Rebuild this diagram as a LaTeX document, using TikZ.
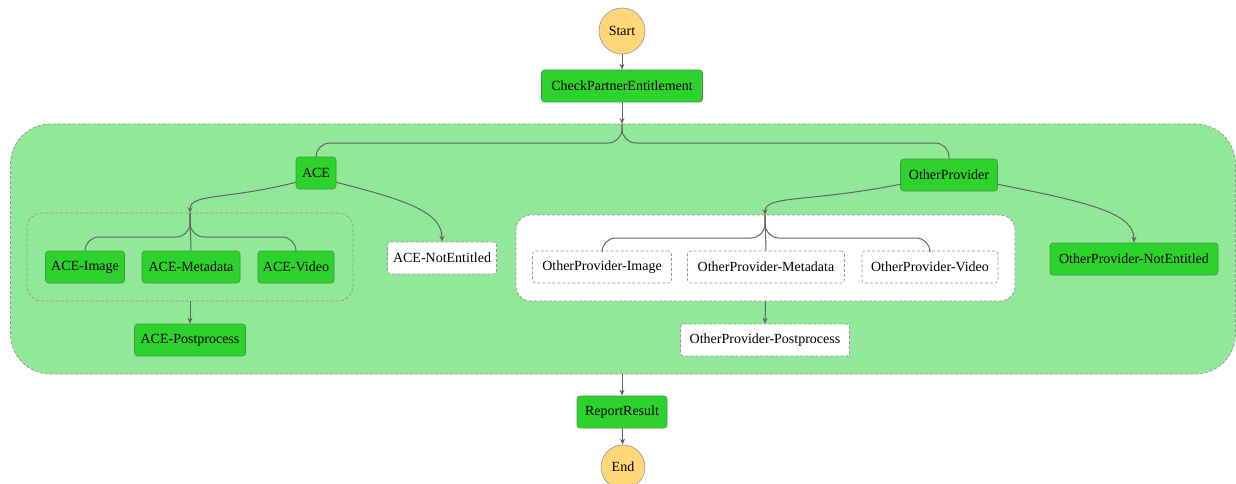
\documentclass[tikz,border=0pt]{standalone}
\usepackage{fontspec}
\setmainfont{Liberation Serif}
\usetikzlibrary{arrows.meta}
\definecolor{nodegreen}{RGB}{45,210,45}
\definecolor{contgreen}{RGB}{145,232,152}
\definecolor{startyel}{RGB}{255,214,120}
\definecolor{edgegray}{RGB}{100,100,100}
\definecolor{bordgray}{RGB}{150,150,150}
\tikzset{
  lbl/.style={font=\fontsize{14}{16}\selectfont, text=black, inner xsep=5pt, inner ysep=0pt, minimum height=32pt},
  greenbox/.style={lbl, rectangle, rounded corners=3pt, fill=nodegreen, draw={rgb,255:red,70;green,150;blue,70}, line width=0.6pt},
  whitebox/.style={lbl, rectangle, rounded corners=3pt, fill=white, draw=bordgray, dash pattern=on 3pt off 2pt, line width=0.6pt},
  termnode/.style={circle, fill=startyel, draw=bordgray, line width=0.6pt, minimum size=46pt, inner sep=0pt, font=\fontsize{14}{16}\selectfont},
  groupbox/.style={rectangle, draw=bordgray, dash pattern=on 3pt off 2pt, line width=0.7pt, inner sep=0pt},
  flow/.style={draw=edgegray, line width=1pt, -{Stealth[length=6pt,width=5pt]}},
  branch/.style={draw=edgegray, line width=1pt, rounded corners=14pt},
}
\begin{document}
\begin{tikzpicture}[x=1pt,y=-1pt]
\useasboundingbox (0,0) rectangle (1236,484);
% container
\node[groupbox, fill=contgreen, rounded corners=40pt, minimum width=1225pt, minimum height=250pt] (cont) at (623,249) {};
\node[groupbox, rounded corners=15pt, minimum width=326pt, minimum height=88pt] (aceg) at (190,257) {};
\node[groupbox, fill=white, rounded corners=15pt, minimum width=499pt, minimum height=86pt] (opg) at (765.5,258) {};
% nodes
\node[termnode] (start) at (622,31) {Start};
\node[greenbox, minimum width=161pt] (cpe) at (622,86) {CheckPartnerEntitlement};
\node[greenbox, minimum width=40pt] (ace) at (316,173) {ACE};
\node[greenbox, minimum width=97pt] (op) at (949,175) {OtherProvider};
\node[greenbox, minimum width=79pt] (acei) at (85,267) {ACE-Image};
\node[greenbox, minimum width=98pt] (acem) at (191,267) {ACE-Metadata};
\node[greenbox, minimum width=76pt] (acev) at (296,267) {ACE-Video};
\node[greenbox, minimum width=111pt] (acep) at (190,340) {ACE-Postprocess};
\node[whitebox, minimum width=109pt] (acen) at (442,258) {ACE-NotEntitled};
\node[whitebox, minimum width=139pt] (opi) at (602,267) {OtherProvider-Image};
\node[whitebox, minimum width=157pt] (opm) at (766,267) {OtherProvider-Metadata};
\node[whitebox, minimum width=136pt] (opv) at (930,267) {OtherProvider-Video};
\node[whitebox, minimum width=169pt] (opp) at (765,340) {OtherProvider-Postprocess};
\node[greenbox, minimum width=168pt] (opn) at (1134,259) {OtherProvider-NotEntitled};
\node[greenbox, minimum width=90pt] (rr) at (622,412) {ReportResult};
\node[termnode, minimum size=44pt] (end) at (623,467) {End};
% junction coordinates
\coordinate (j0) at (622,124);
\coordinate (j1) at (190,213);
\coordinate (j2) at (765,215);
% main flow
\draw[flow] (start) -- (cpe);
\draw[flow] (cpe) -- (j0);
\draw[branch] (j0) -- (622,143) -- (316,143) -- (ace.north);
\draw[branch] (j0) -- (622,143) -- (949,143) -- (op.north);
% ACE
\draw[flow] (ace.south west) ++(0,-7) .. controls +(-70,18) and +(0,-20) .. (j1);
\draw[flow] (ace.south east) ++(0,-7) .. controls +(70,18) and +(0,-30) .. (acen.north);
\draw[branch] (j1) -- (190,237) -- (85,237) -- (acei.north);
\draw[branch] (j1) -- (acem.north);
\draw[branch] (j1) -- (190,237) -- (296,237) -- (acev.north);
\draw[flow] (aceg.south) -- (acep.north);
% OtherProvider
\draw[flow] (op.south west) ++(0,-7) .. controls +(-90,18) and +(0,-20) .. (j2);
\draw[flow] (op.south east) ++(0,-7) .. controls +(90,18) and +(0,-30) .. (opn.north);
\draw[branch] (j2) -- (765,238) -- (602,238) -- (opi.north);
\draw[branch] (j2) -- (opm.north);
\draw[branch] (j2) -- (765,238) -- (930,238) -- (opv.north);
\draw[flow] (opg.south) -- (opp.north);
% end
\draw[flow] (cont.south) ++(-1,0) -- (rr.north);
\draw[flow] (rr) -- (end);
\end{tikzpicture}
\end{document}
